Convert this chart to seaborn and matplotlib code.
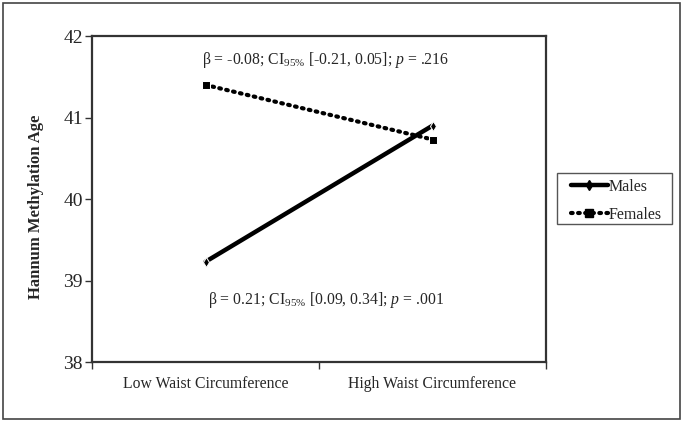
import matplotlib

matplotlib.use("Agg")
import matplotlib.pyplot as plt
import pandas as pd
import seaborn as sns
from matplotlib.lines import Line2D
from matplotlib.patches import Rectangle

categories = ["Low Waist Circumference", "High Waist Circumference"]
males = [39.23, 40.90]
females = [41.40, 40.73]
y_ticks = [38, 39, 40, 41, 42]
label_females = r"β = -0.08; CI$_{95\%}$ [-0.21, 0.05]; $p$ = .216"
label_males = r"β = 0.21; CI$_{95\%}$ [0.09, 0.34]; $p$ = .001"

sns.set_style("white")
plt.rcParams["font.family"] = ["Liberation Serif", "DejaVu Serif"]
plt.rcParams["mathtext.fontset"] = "custom"
plt.rcParams["mathtext.rm"] = "Liberation Serif"
plt.rcParams["mathtext.it"] = "Liberation Serif:italic"

df = pd.DataFrame({
    "waist": categories * 2,
    "age": males + females,
    "sex": ["Males"] * 2 + ["Females"] * 2,
})

fig = plt.figure(figsize=(6.83, 4.23), dpi=100)
ax = fig.add_axes([92 / 683, 1 - 362 / 423, 454 / 683, 326 / 423])

sns.lineplot(data=df[df["sex"] == "Males"], x="waist", y="age", ax=ax,
             color="black", lw=3.2, marker="d", markersize=5, legend=False)
sns.lineplot(data=df[df["sex"] == "Females"], x="waist", y="age", ax=ax,
             color="black", lw=3, ls=(0, (0.4, 1.3)), dash_capstyle="round",
             marker="s", markersize=6, legend=False)

ax.set_xlim(-0.5, 1.5)
ax.set_ylim(38, 42)
ax.set_yticks(y_ticks)
ax.set_xticks([0, 1])
ax.set_xticklabels(categories, fontsize=11.3)
ax.set_xticks([-0.5, 0.5, 1.5], minor=True)
ax.tick_params(axis="x", which="major", length=0, pad=10)
ax.tick_params(axis="x", which="minor", length=5, width=1, color="#333333", direction="out", bottom=True)
ax.tick_params(axis="y", length=5, width=1, color="#333333", direction="out", left=True,
               labelsize=14, pad=1.5)
ax.set_xlabel("")
ax.set_ylabel("Hannum Methylation Age", fontsize=12, fontweight="bold")
ax.yaxis.set_label_coords(-0.106, 0.475)
for s in ax.spines.values():
    s.set_visible(True)
    s.set_color("#333333")
    s.set_linewidth(1.6)

ax.text(0.515, 0.925, label_females, transform=ax.transAxes, ha="center", va="center", fontsize=11.3)
ax.text(0.515, 0.19, label_males, transform=ax.transAxes, ha="center", va="center", fontsize=11.3)

handles = [
    Line2D([], [], color="black", lw=3.2, marker="d", markersize=5),
    Line2D([], [], color="black", lw=3, ls=(0, (0.4, 1.3)), dash_capstyle="round",
           marker="s", markersize=6),
]
leg = fig.legend(handles, ["Males", "Females"], loc="center left",
                 bbox_to_anchor=(571 / 683, 1 - 201 / 423), fontsize=11.5,
                 frameon=False, handlelength=2.3, handletextpad=0.05,
                 borderpad=0, labelspacing=0.75, borderaxespad=0)

fig.patches.append(Rectangle((557 / 683, 1 - 224 / 423), 115 / 683, 51 / 423,
                             transform=fig.transFigure, fill=False, edgecolor="#555555", lw=1))
fig.patches.append(Rectangle((3 / 683, 4 / 423), 677 / 683, 416 / 423, transform=fig.transFigure,
                             fill=False, edgecolor="#444444", lw=1.2))

fig.savefig("out.png", dpi=100)
